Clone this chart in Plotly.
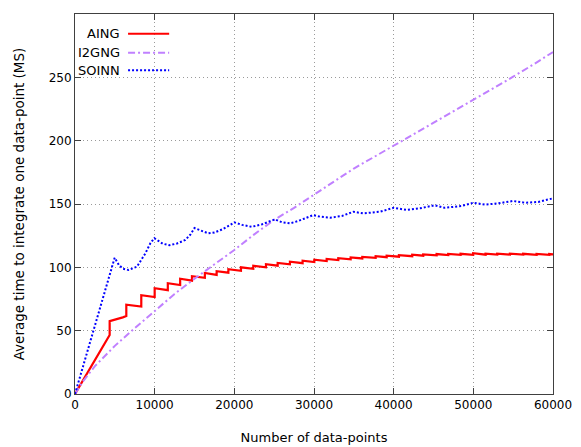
import plotly.graph_objects as go

# ---------------- data ----------------
x_ticks = [0, 10000, 20000, 30000, 40000, 50000, 60000]
y_ticks = [0, 50, 100, 150, 200, 250, 300]

aing_x = [0, 4350, 4350, 5000, 6000, 6440, 6440, 8320, 8320, 10000, 10000,
          11650, 11650, 13200, 13200, 14680, 14680, 16300, 16300, 17780, 17780,
          19250, 19250, 20830, 20830, 22380, 22380, 23970, 23970, 25440, 25440,
          26980, 26980, 28570, 28570, 30040, 30040, 31590, 31590, 33050, 33050,
          34600, 34600, 36060, 36060, 37740, 37740, 39120, 39120, 40660, 40660,
          42330, 42330, 43710, 43710, 45390, 45390, 46850, 46850, 48400, 48400,
          49980, 49980, 51540, 51540, 53000, 53000, 54590, 54590, 56260, 56260,
          57940, 57940, 59530, 59530, 60000]
aing_y = [0, 46.6, 57.5, 58.5, 60.5, 61.5, 70.5, 69.0, 78.0, 76.5, 83.5,
          82.0, 87.5, 86.0, 91.0, 89.5, 93.0, 91.8, 95.5, 94.0, 97.0,
          95.8, 98.5, 97.3, 100.0, 98.8, 101.3, 100.0, 102.5, 101.3, 103.5,
          102.4, 104.4, 103.3, 105.2, 104.2, 106.0, 105.0, 106.7, 105.8, 107.3,
          106.4, 107.8, 107.0, 108.3, 107.5, 108.8, 108.0, 109.2, 108.4, 109.6,
          108.8, 110.0, 109.2, 110.2, 109.5, 110.5, 109.7, 110.6, 109.8, 110.7,
          109.9, 111.2, 110.0, 110.8, 110.0, 110.8, 110.0, 110.8, 110.0, 110.7,
          109.9, 110.6, 109.9, 110.5, 110.3]

i2gng_x = [0, 1000, 2500, 5000, 7500, 10000, 12500, 15000, 17500, 20000, 22500,
           25000, 27500, 30000, 32500, 35000, 37500, 40000, 42500, 45000,
           47500, 50000, 52500, 55000, 57500, 60000]
i2gng_y = [0, 10, 22, 38, 52, 65.5, 79, 91, 102.5, 113.7, 126,
           137.5, 147, 157.5, 168, 178, 187, 196, 205, 214,
           223, 232.6, 241.5, 250.5, 260, 270]

soinn_x = [0, 4980, 5500, 6000, 6700, 7780, 8830, 9460, 9950, 10500, 11000,
           11840, 12800, 13850, 14500, 15000, 15700, 16730, 17500, 18500,
           19500, 20000, 21000, 22170, 23500, 24500, 25100, 26000, 26980,
           28000, 29300, 29910, 30750, 32000, 33500, 34930, 36180, 38280,
           40000, 41630, 43300, 45180, 46400, 48500, 50000, 51450, 53100,
           55000, 56460, 58150, 60000]
soinn_y = [0, 107.6, 102, 99, 97.9, 100.5, 111, 119, 123, 120.5, 118.7,
           117.4, 118.8, 121.6, 126, 131, 129.5, 126.8, 127.5, 130,
           133.5, 135.5, 133.5, 132, 134, 136.5, 137.9, 135.5, 134.7,
           136.5, 139.5, 141.3, 140, 139.2, 140.5, 143.9, 142.6, 143.9,
           147, 145.3, 146.6, 149, 147, 148.4, 151, 149.5, 150.5,
           152.4, 151, 151.6, 154.5]

series_names = ["AING", "I2GNG", "SOINN"]
series_colors = ["#ff0000", "#c080ff", "#0000ff"]
series_dash = ["solid", "7px,3px,2px,3px", "2px,2px"]
series_width = [2.2, 2, 2]

FONT = "DejaVu Sans"

fig = go.Figure()
data = [(aing_x, aing_y), (i2gng_x, i2gng_y), (soinn_x, soinn_y)]
for (xs, ys), name, col, dash, w in zip(data, series_names, series_colors, series_dash, series_width):
    fig.add_trace(go.Scatter(x=xs, y=ys, mode="lines", name=name,
                             line=dict(color=col, width=w, dash=dash),
                             showlegend=False))

# legend drawn gnuplot-style: right-aligned label followed by line sample
legend_rows_y = [0.948, 0.898, 0.852]
for name, col, dash, w, yy in zip(series_names, series_colors, series_dash, series_width, legend_rows_y):
    fig.add_annotation(x=0.098, y=yy, xref="paper", yref="paper", text=name,
                       showarrow=False, xanchor="right", yanchor="middle",
                       font=dict(family=FONT, size=13, color="#000"))
    fig.add_shape(type="line", xref="paper", yref="paper",
                  x0=0.111, x1=0.197, y0=yy, y1=yy,
                  line=dict(color=col, width=w, dash=dash))

axis_common = dict(showline=True, linecolor="#404040", linewidth=1, mirror="ticks",
                   ticks="inside", ticklen=6, tickcolor="#404040",
                   showgrid=True, gridcolor="#9a9a9a", griddash="1px,3px", gridwidth=1,
                   zeroline=False, automargin=False,
                   tickfont=dict(family=FONT, size=12, color="#000"))

fig.update_xaxes(range=[0, 60000], tickvals=x_ticks, ticktext=[str(v) for v in x_ticks],
                 title=dict(text="Number of data-points", standoff=21,
                            font=dict(family=FONT, size=13, color="#000")),
                 **axis_common)
fig.update_yaxes(range=[0, 300], tickvals=y_ticks, ticktext=[str(v) for v in y_ticks],
                 title=dict(text="Average time to integrate one data-point (MS)", standoff=20,
                            font=dict(family=FONT, size=13.5, color="#000")),
                 **axis_common)

# page body adds an 8px margin, so the figure is offset by that amount
fig.update_layout(width=573, height=439, autosize=False,
                  margin=dict(l=67, r=28, t=6, b=53),
                  paper_bgcolor="white", plot_bgcolor="white",
                  font=dict(family=FONT, size=12, color="#000"))

fig.write_html("out.html")
